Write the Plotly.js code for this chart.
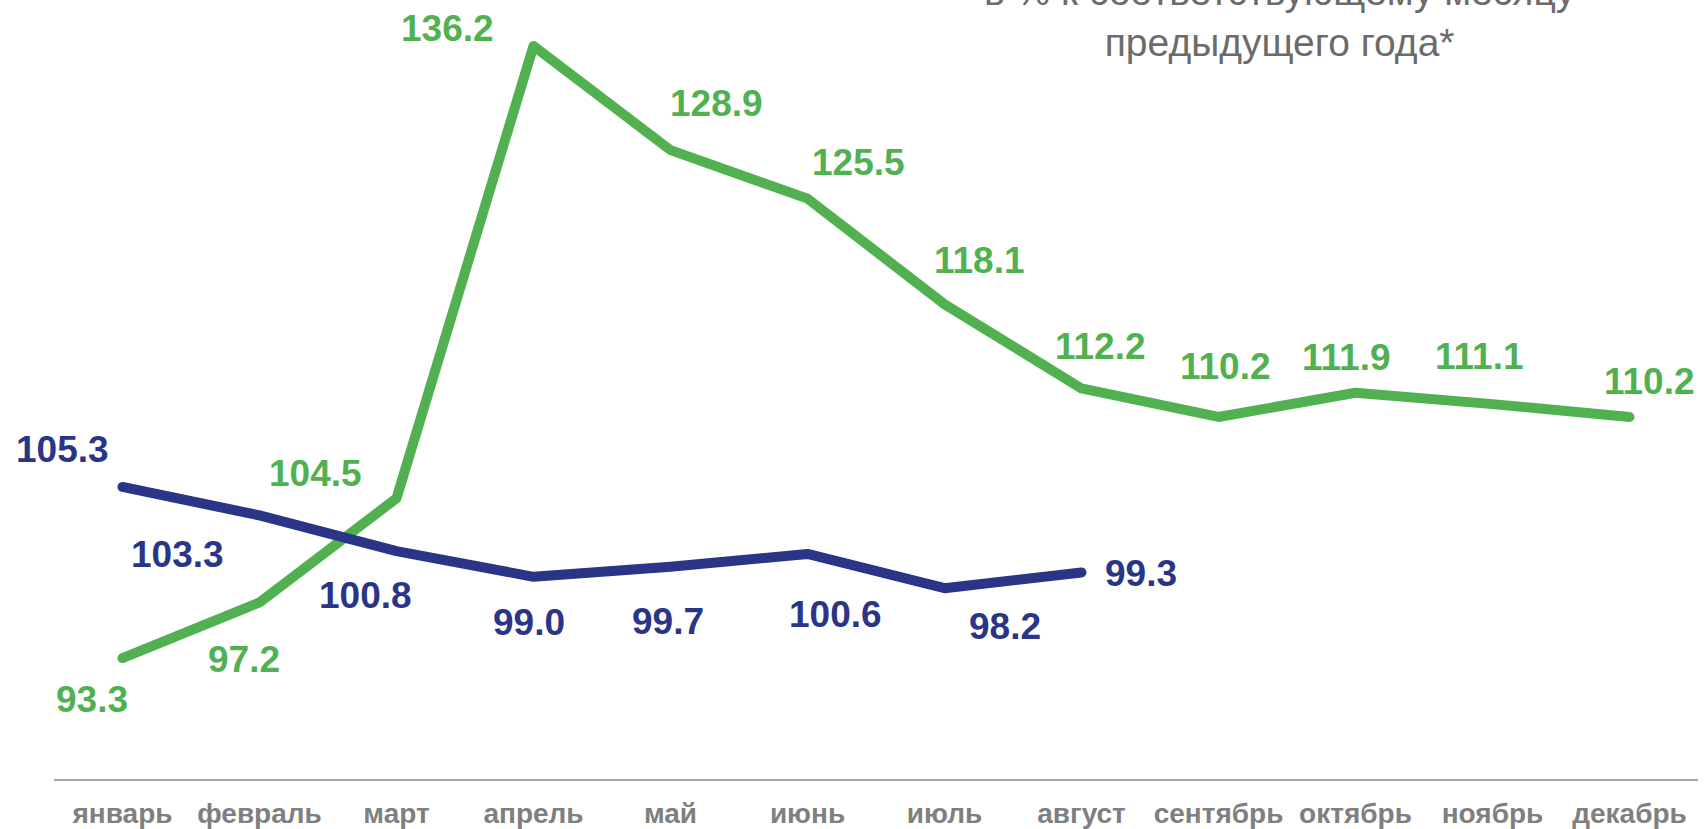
<!DOCTYPE html>
<html>
<head>
<meta charset="utf-8">
<script src="https://cdn.plot.ly/plotly-3.0.1.min.js"></script>
<style>
  html, body { margin: 0; padding: 0; background: #fff; }
  #chart { width: 1704px; height: 829px; }
  .js-line { stroke-linecap: round !important; stroke-linejoin: round !important; }
</style>
</head>
<body>
<div id="chart"></div>
<script>
// ---- data ----
const months = ["январь", "февраль", "март", "апрель", "май", "июнь", "июль", "август", "сентябрь", "октябрь", "ноябрь", "декабрь"];
const greenValues = [93.3, 97.2, 104.5, 136.2, 128.9, 125.5, 118.1, 112.2, 110.2, 111.9, 111.1, 110.2];
const blueValues = [105.3, 103.3, 100.8, 99.0, 99.7, 100.6, 98.2, 99.3];
const titleLines = ["в % к соответствующему месяцу", "предыдущего года*"];

// ---- label placement (pixel offsets from each point: [dx, dy], dy up-positive) ----
const greenLabelShift = [[-31,-41],[-16,-57],[-81,25],[-86,17],[46,47],[51,36],[35,44],[19,42],[7,50],[-9,35],[-13,48],[20,35]];
const blueLabelShift = [[-60,37],[-82,-39],[-31,-44],[-5,-46],[-3,-55],[28,-61],[60,-38],[59,-1]];

const GREEN = "#51b151";
const BLUE = "#2a3587";
const FONT = "Liberation Sans, Arial, sans-serif";

const traces = [
  {
    x: months, y: greenValues, type: "scatter", mode: "lines",
    line: { color: GREEN, width: 10 }, hoverinfo: "skip", cliponaxis: false
  },
  {
    x: months.slice(0, blueValues.length), y: blueValues, type: "scatter", mode: "lines",
    line: { color: BLUE, width: 10 }, hoverinfo: "skip", cliponaxis: false
  }
];

const annotations = [];
greenValues.forEach((v, i) => {
  annotations.push({
    x: months[i], y: v, xref: "x", yref: "y", text: v.toFixed(1), showarrow: false,
    xshift: greenLabelShift[i][0], yshift: greenLabelShift[i][1],
    font: { family: FONT, size: 37, color: GREEN, weight: "bold" }
  });
});
blueValues.forEach((v, i) => {
  annotations.push({
    x: months[i], y: v, xref: "x", yref: "y", text: v.toFixed(1), showarrow: false,
    xshift: blueLabelShift[i][0], yshift: blueLabelShift[i][1],
    font: { family: FONT, size: 37, color: BLUE, weight: "bold" }
  });
});
annotations.push({
  xref: "paper", yref: "paper", x: (1280 - 54) / 1644, y: (779 - 66) / 779,
  xanchor: "center", yanchor: "bottom", align: "center", showarrow: false,
  text: titleLines.join("<br>"),
  font: { family: "Liberation Sans Narrow, Arial Narrow, Liberation Sans, sans-serif", size: 39, color: "#6b6b6b" }
});

const layout = {
  width: 1704, height: 829,
  margin: { l: 54, r: 6, t: 0, b: 50, pad: 0 },
  paper_bgcolor: "#ffffff", plot_bgcolor: "#ffffff",
  showlegend: false,
  xaxis: {
    type: "category", range: [-0.5, 11.5], fixedrange: true,
    showline: true, linecolor: "#a6a6a6", linewidth: 2,
    showgrid: false, zeroline: false, ticks: "",
    ticklabelstandoff: 8,
    tickfont: { family: FONT, size: 28, color: "#7f7f7f", weight: "bold" }
  },
  yaxis: {
    range: [84.83, 139.42], fixedrange: true,
    showline: false, showgrid: false, zeroline: false, showticklabels: false, ticks: ""
  },
  annotations: annotations
};

Plotly.newPlot("chart", traces, layout, { displayModeBar: false, staticPlot: true });
</script>
</body>
</html>
